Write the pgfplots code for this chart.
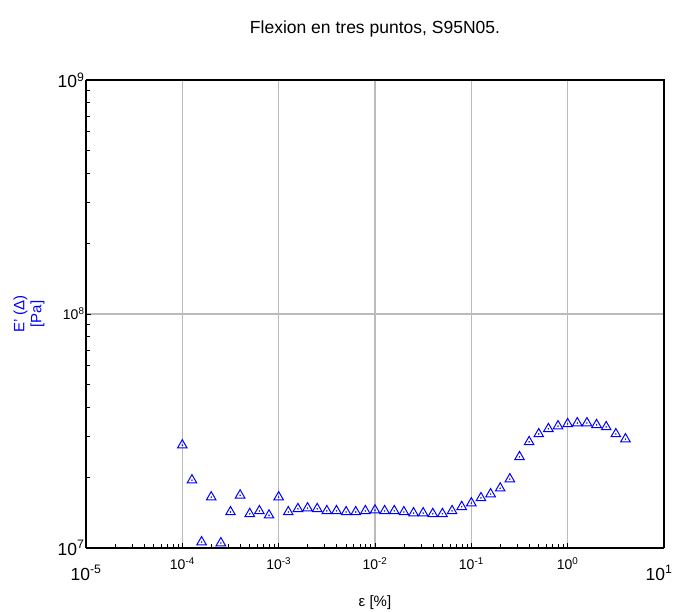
\documentclass[border=0pt]{standalone}
\usepackage{fontspec}
\setmainfont{Liberation Sans}
\usepackage{pgfplots}
\pgfplotsset{compat=1.18}
\definecolor{gridgray}{HTML}{BBBBBB}
\definecolor{markblue}{HTML}{0000FF}
\newcommand{\tkbig}[1]{{\fontsize{17.5}{17.5}\selectfont 10\textsuperscript{#1}}}
\newcommand{\tkbigx}[1]{\raisebox{-8pt}[\height][\depth]{\fontsize{17.5}{17.5}\selectfont 10\textsuperscript{#1}}}
\newcommand{\tksml}[1]{{\fontsize{14}{14}\selectfont 10\textsuperscript{#1}}}
\begin{document}
\begin{tikzpicture}
\useasboundingbox (-86pt,-64pt) rectangle (588pt,548pt);
\begin{axis}[
    at={(0,0)}, anchor=south west,
    scale only axis,
    width=578pt, height=468pt,
    xmode=log, ymode=log,
    xmin=1e-5, xmax=10,
    ymin=1e7, ymax=1e9,
    xtick={1e-5,1e-4,1e-3,1e-2,1e-1,1},
    xticklabels={\tkbigx{-5},\tksml{-4},\tksml{-3},\tksml{-2},\tksml{-1},\tksml{0}},
    extra x ticks={10},
    extra x tick labels={\tkbigx{1}},
    extra x tick style={grid=none, xticklabel style={xshift=-5pt}},
    ytick={1e7,1e8,1e9},
    yticklabels={\tkbig{7},\tksml{8},\tkbig{9}},
    axis x line*=bottom, axis y line*=left,
    axis line style={black, line width=1.2pt},
    tick style={black, line width=0.8pt},
    major tick length=5pt, minor tick length=4pt,
    tick align=inside,
    xmajorgrids, ymajorgrids,
    major grid style={gridgray, line width=1.4pt},
    xticklabel style={yshift=-6pt},
    yticklabel style={xshift=2pt},
    title={Flexion en tres puntos, S95N05.},
    title style={font=\fontsize{17.5}{17.5}\selectfont, at={(axis description cs:0.5,1)}, anchor=center, yshift=45pt},
    xlabel={ε [\%]},
    xlabel style={font=\fontsize{15}{15}\selectfont, at={(axis description cs:0.5,0)}, anchor=center, yshift=-55pt},
    ylabel={E' (Δ)\\{}[Pa]},
    ylabel style={font=\fontsize{15}{17}\selectfont, text=markblue, align=center, at={(axis description cs:0,0.5)}, anchor=center, yshift=57pt},
    clip=false,
]
\addplot[only marks, mark=triangle, mark size=5.5pt, mark options={markblue, line width=1pt}] coordinates {
(1.000e-4,2.75e7) (1.259e-4,1.95e7) (1.585e-4,1.06e7) (1.995e-4,1.65e7) (2.512e-4,1.05e7)
(3.162e-4,1.425e7) (3.981e-4,1.68e7) (5.012e-4,1.40e7) (6.310e-4,1.44e7) (7.943e-4,1.38e7)
(1.000e-3,1.65e7) (1.259e-3,1.425e7) (1.585e-3,1.47e7) (1.995e-3,1.48e7) (2.512e-3,1.47e7)
(3.162e-3,1.44e7) (3.981e-3,1.44e7) (5.012e-3,1.425e7) (6.310e-3,1.425e7) (7.943e-3,1.44e7)
(1.000e-2,1.45e7) (1.259e-2,1.44e7) (1.585e-2,1.44e7) (1.995e-2,1.425e7) (2.512e-2,1.41e7)
(3.162e-2,1.41e7) (3.981e-2,1.40e7) (5.012e-2,1.40e7) (6.310e-2,1.44e7) (7.943e-2,1.50e7)
(1.000e-1,1.556e7) (1.259e-1,1.636e7) (1.585e-1,1.70e7) (1.995e-1,1.80e7) (2.512e-1,1.97e7)
(3.162e-1,2.45e7) (3.981e-1,2.84e7) (5.012e-1,3.07e7) (6.310e-1,3.23e7) (7.943e-1,3.32e7)
(1.000,3.39e7) (1.259,3.42e7) (1.585,3.42e7) (1.995,3.36e7) (2.512,3.29e7)
(3.162,3.07e7) (3.981,2.92e7)
};
\addplot[only marks, mark=*, mark size=0.5pt, markblue] coordinates {
(1.000e-4,2.75e7) (1.259e-4,1.95e7) (1.585e-4,1.06e7) (1.995e-4,1.65e7) (2.512e-4,1.05e7)
(3.162e-4,1.425e7) (3.981e-4,1.68e7) (5.012e-4,1.40e7) (6.310e-4,1.44e7) (7.943e-4,1.38e7)
(1.000e-3,1.65e7) (1.259e-3,1.425e7) (1.585e-3,1.47e7) (1.995e-3,1.48e7) (2.512e-3,1.47e7)
(3.162e-3,1.44e7) (3.981e-3,1.44e7) (5.012e-3,1.425e7) (6.310e-3,1.425e7) (7.943e-3,1.44e7)
(1.000e-2,1.45e7) (1.259e-2,1.44e7) (1.585e-2,1.44e7) (1.995e-2,1.425e7) (2.512e-2,1.41e7)
(3.162e-2,1.41e7) (3.981e-2,1.40e7) (5.012e-2,1.40e7) (6.310e-2,1.44e7) (7.943e-2,1.50e7)
(1.000e-1,1.556e7) (1.259e-1,1.636e7) (1.585e-1,1.70e7) (1.995e-1,1.80e7) (2.512e-1,1.97e7)
(3.162e-1,2.45e7) (3.981e-1,2.84e7) (5.012e-1,3.07e7) (6.310e-1,3.23e7) (7.943e-1,3.32e7)
(1.000,3.39e7) (1.259,3.42e7) (1.585,3.42e7) (1.995,3.36e7) (2.512,3.29e7)
(3.162,3.07e7) (3.981,2.92e7)
};
\end{axis}
\draw[black, line width=1.2pt] (0,468pt) -- (578pt,468pt) -- (578pt,0);
\end{tikzpicture}
\end{document}
